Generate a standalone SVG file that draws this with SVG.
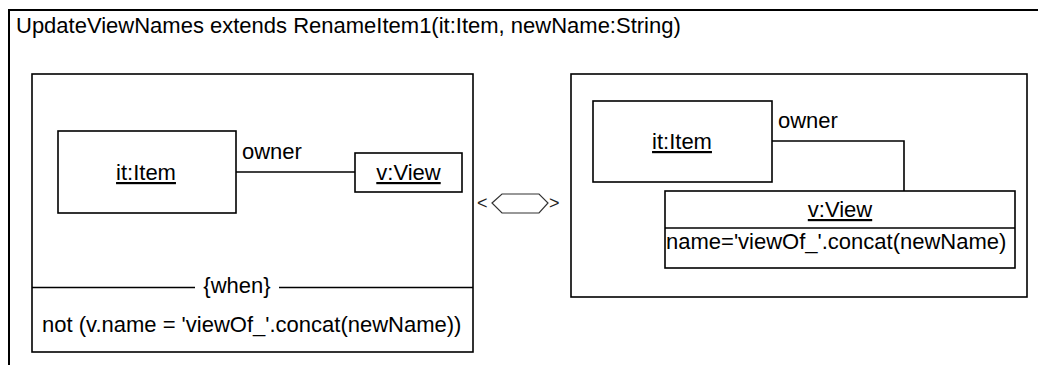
<svg xmlns="http://www.w3.org/2000/svg" width="1038" height="365" viewBox="0 0 1038 365">
<style>
  text { font-family: "Liberation Sans", Arial, sans-serif; font-size: 22px; fill: #000; }
  .box { fill: #fff; stroke: #000; stroke-width: 1.6; }
  .frame { fill: none; stroke: #000; stroke-width: 2; }
  .line { fill: none; stroke: #000; stroke-width: 1.6; }
  .u { text-decoration: underline; }
  .mid { text-anchor: middle; }
  .sym { font-size: 18px; fill: #222; }
</style>
<rect width="1038" height="365" fill="#fff"/>
<g id="frame">
  <rect class="frame" x="9" y="10" width="1100" height="420"/>
  <text x="16" y="33">UpdateViewNames extends RenameItem1(it:Item, newName:String)</text>
</g>
<g id="lhs">
  <rect class="box" x="32" y="74" width="441" height="278"/>
  <line class="line" x1="32" y1="287.5" x2="195" y2="287.5"/>
  <line class="line" x1="279" y1="287.5" x2="473" y2="287.5"/>
  <text class="mid" x="237" y="293">{when}</text>
  <text x="42" y="332">not (v.name = 'viewOf_'.concat(newName))</text>
</g>
<g id="lhs-item">
  <rect class="box" x="58" y="131" width="178" height="82"/>
  <text class="mid u" x="146" y="180">it:Item</text>
</g>
<g id="lhs-view">
  <rect class="box" x="355" y="153" width="107" height="39"/>
  <text class="mid u" x="408.5" y="180">v:View</text>
</g>
<g id="rhs">
  <rect class="box" x="571" y="74" width="456" height="223"/>
</g>
<g id="rhs-item">
  <rect class="box" x="593" y="101" width="179" height="81"/>
  <text class="mid u" x="682" y="149">it:Item</text>
</g>
<g id="rhs-view">
  <rect class="box" x="665" y="191" width="350" height="77"/>
  <line class="line" x1="665" y1="228" x2="1015" y2="228"/>
  <text class="mid u" x="840" y="217">v:View</text>
  <text x="666" y="249">name='viewOf_'.concat(newName)</text>
</g>
<g id="transform">
  <polygon points="492,203 502,194 539,194 548,203 539,213 502,213" fill="#fff" stroke="#333" stroke-width="1.2"/>
  <text class="sym" x="477" y="209">&lt;</text>
  <text class="sym" x="549" y="209">&gt;</text>
</g>
<g id="connectors">
  <line class="line" x1="236" y1="172" x2="355" y2="172"/>
  <text x="242" y="159">owner</text>
  <polyline class="line" points="772,141 904,141 904,191"/>
  <text x="778" y="128">owner</text>
</g>
</svg>
